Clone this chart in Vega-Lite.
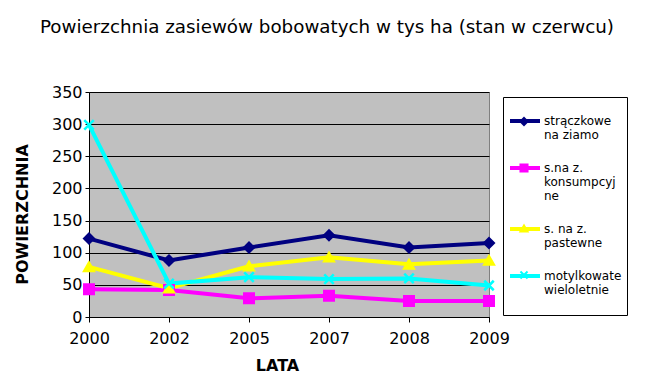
{
  "$schema": "https://vega.github.io/schema/vega-lite/v6.json",
  "width": 400,
  "height": 225,
  "autosize": {"type": "none"},
  "padding": {"left": 89, "top": 92, "right": 176, "bottom": 63},
  "background": "white",
  "config": {"font": "DejaVu Sans", "view": {"fill": "#C0C0C0", "stroke": "#808080"}},
  "title": {"text": "Powierzchnia zasiewów bobowatych w tys ha (stan w czerwcu)", "fontSize": 18.3, "fontWeight": "normal", "color": "black", "anchor": "middle", "frame": "group", "dx": 38, "offset": 47, "font": "DejaVu Sans"},
  "data": {"values": [
    {"year": "2000", "series": "strączkowe|na ziamo", "value": 122},
    {"year": "2002", "series": "strączkowe|na ziamo", "value": 88},
    {"year": "2005", "series": "strączkowe|na ziamo", "value": 108},
    {"year": "2007", "series": "strączkowe|na ziamo", "value": 127},
    {"year": "2008", "series": "strączkowe|na ziamo", "value": 108},
    {"year": "2009", "series": "strączkowe|na ziamo", "value": 115},
    {"year": "2000", "series": "s.na z.|konsumpcyj|ne", "value": 43},
    {"year": "2002", "series": "s.na z.|konsumpcyj|ne", "value": 42},
    {"year": "2005", "series": "s.na z.|konsumpcyj|ne", "value": 29},
    {"year": "2007", "series": "s.na z.|konsumpcyj|ne", "value": 33},
    {"year": "2008", "series": "s.na z.|konsumpcyj|ne", "value": 25},
    {"year": "2009", "series": "s.na z.|konsumpcyj|ne", "value": 25},
    {"year": "2000", "series": "s. na z.|pastewne", "value": 78},
    {"year": "2002", "series": "s. na z.|pastewne", "value": 45},
    {"year": "2005", "series": "s. na z.|pastewne", "value": 79},
    {"year": "2007", "series": "s. na z.|pastewne", "value": 93},
    {"year": "2008", "series": "s. na z.|pastewne", "value": 82},
    {"year": "2009", "series": "s. na z.|pastewne", "value": 88},
    {"year": "2000", "series": "motylkowate|wieloletnie", "value": 299},
    {"year": "2002", "series": "motylkowate|wieloletnie", "value": 52},
    {"year": "2005", "series": "motylkowate|wieloletnie", "value": 62},
    {"year": "2007", "series": "motylkowate|wieloletnie", "value": 59},
    {"year": "2008", "series": "motylkowate|wieloletnie", "value": 60},
    {"year": "2009", "series": "motylkowate|wieloletnie", "value": 49}
  ]},
  "encoding": {
    "x": {"field": "year", "type": "ordinal", "scale": {"type": "point", "padding": 0},
      "axis": {"title": "LATA", "labelAngle": 0, "labelFontSize": 16, "labelColor": "black", "tickColor": "black", "tickSize": 5, "labelPadding": 8, "domainColor": "black", "titleFontSize": 16, "titleFontWeight": "bold", "titleColor": "black", "titleX": 188, "titleY": 48, "titleBaseline": "middle", "titleAlign": "center", "grid": false}},
    "y": {"field": "value", "type": "quantitative", "scale": {"domain": [0, 350]},
      "axis": {"title": "POWIERZCHNIA", "values": [0, 50, 100, 150, 200, 250, 300, 350], "grid": true, "gridColor": "black", "gridOpacity": 1, "ticks": true, "tickSize": 4, "tickColor": "black", "labelPadding": 3, "labelFontSize": 16, "labelColor": "black", "domainColor": "black", "titleFontSize": 16, "titleFontWeight": "bold", "titleColor": "black", "titleX": -67, "titleY": 122, "titleAlign": "center", "titleBaseline": "middle", "titleAngle": -90}}
  },
  "layer": [
    {
      "mark": {"type": "line", "strokeWidth": 4},
      "encoding": {
        "color": {"field": "series", "type": "nominal", "sort": null,
          "scale": {"domain": ["strączkowe|na ziamo", "s.na z.|konsumpcyj|ne", "s. na z.|pastewne", "motylkowate|wieloletnie"], "range": ["#000080", "#FF00FF", "#FFFF00", "#00FFFF"]},
          "legend": {"orient": "none", "legendX": 414, "legendY": 5, "title": " ", "titleFontSize": 1, "titlePadding": 1, "symbolType": "stroke", "symbolStrokeWidth": 4, "symbolSize": 900, "labelExpr": "split(datum.label + (datum.label == 'motylkowate|wieloletnie' ? '| ' : ''), '|')", "labelFontSize": 12, "labelColor": "black", "labelFont": "DejaVu Sans", "strokeColor": "black", "fillColor": "white", "padding": 5, "rowPadding": 10, "labelOffset": 2, "labelLimit": 200}}
      }
    },
    {
      "mark": {"type": "point", "filled": true, "size": 90, "opacity": 1, "strokeWidth": 2.5},
      "encoding": {
        "color": {"field": "series", "type": "nominal",
          "scale": {"domain": ["strączkowe|na ziamo", "s.na z.|konsumpcyj|ne", "s. na z.|pastewne", "motylkowate|wieloletnie"], "range": ["#000080", "#FF00FF", "#FFFF00", "#00FFFF"]},
          "legend": {"orient": "none", "legendX": 424, "legendY": 5, "title": " ", "titleFontSize": 1, "titlePadding": 12.5, "symbolSize": 50, "symbolStrokeWidth": 2, "symbolOpacity": 1, "labelExpr": "(datum.label == 's.na z.|konsumpcyj|ne' || datum.label == 'motylkowate|wieloletnie') ? [' ', ' ', ' '] : [' ', ' ']", "labelFontSize": 12, "labelColor": "transparent", "labelFont": "DejaVu Sans", "padding": 5, "rowPadding": 18.5, "labelOffset": 2, "labelLimit": 200}},
        "stroke": {"field": "series", "type": "nominal", "legend": null,
          "scale": {"domain": ["strączkowe|na ziamo", "s.na z.|konsumpcyj|ne", "s. na z.|pastewne", "motylkowate|wieloletnie"], "range": ["#000080", "#FF00FF", "#FFFF00", "#00FFFF"]}},
        "shape": {"field": "series", "type": "nominal", "legend": null,
          "scale": {"domain": ["strączkowe|na ziamo", "s.na z.|konsumpcyj|ne", "s. na z.|pastewne", "motylkowate|wieloletnie"], "range": ["diamond", "square", "triangle-up", "M-1,-1L1,1M-1,1L1,-1"]}}
      }
    }
  ],
  "resolve": {"scale": {"color": "independent", "shape": "independent", "stroke": "independent"}, "legend": {"color": "independent", "shape": "independent", "stroke": "independent"}}
}
